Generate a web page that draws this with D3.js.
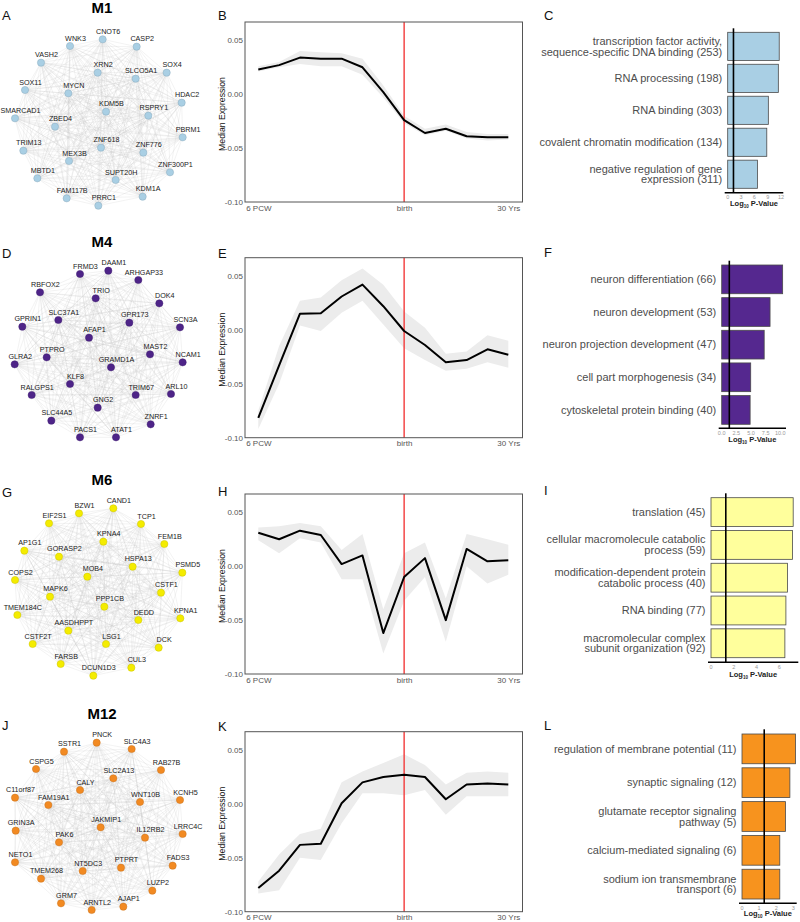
<!DOCTYPE html>
<html>
<head>
<meta charset="utf-8">
<style>
  body { margin: 0; background: #fff; }
  svg { display: block; font-family: "Liberation Sans", Arial, sans-serif; }
</style>
</head>
<body>
<svg id="fig" width="800" height="922"></svg>
<script src="https://d3js.org/d3.v7.min.js"></script>
<script>
// ---------- data ----------
const moduleNames = ["M1", "M4", "M6", "M12"];
const timeTicks = [0, 7, 12];
const timeTickLabels = ["6 PCW", "birth", "30 Yrs"];
const birthIndex = 7;

// median expression over 13 developmental windows, with spread band
const m1Median = [0.023, 0.027, 0.034, 0.033, 0.033, 0.025, 0.002, -0.024, -0.036, -0.032, -0.039, -0.040, -0.040];
const m1Upper  = [0.026, 0.030, 0.040, 0.039, 0.038, 0.033, 0.008, -0.020, -0.032, -0.028, -0.035, -0.037, -0.037];
const m1Lower  = [0.021, 0.025, 0.028, 0.026, 0.026, 0.018, -0.003, -0.027, -0.038, -0.034, -0.041, -0.043, -0.042];

const m4Median = [-0.0815, -0.033, 0.015, 0.0155, 0.031, 0.042, 0.022, -0.001, -0.014, -0.030, -0.028, -0.018, -0.023];
const m4Upper  = [-0.075, -0.015, 0.027, 0.030, 0.046, 0.057, 0.042, 0.017, 0.002, -0.022, -0.020, -0.005, -0.010];
const m4Lower  = [-0.092, -0.050, 0.004, -0.001, 0.016, 0.027, 0.005, -0.017, -0.028, -0.038, -0.036, -0.030, -0.035];

const m6Median = [0.031, 0.025, 0.033, 0.029, 0.002, 0.010, -0.062, -0.010, 0.0075, -0.050, 0.016, 0.0045, 0.0055];
const m6Upper  = [0.036, 0.037, 0.040, 0.037, 0.015, 0.030, -0.040, 0.012, 0.022, -0.030, 0.030, 0.025, 0.020];
const m6Lower  = [0.024, 0.012, 0.026, 0.022, -0.012, -0.012, -0.081, -0.032, -0.010, -0.070, 0.000, -0.016, -0.008];

const m12Median = [-0.078, -0.062, -0.038, -0.037, 0.0006, 0.020, 0.025, 0.027, 0.025, 0.0043, 0.018, 0.019, 0.018];
const m12Upper  = [-0.072, -0.047, -0.028, -0.023, 0.020, 0.030, 0.038, 0.046, 0.036, 0.018, 0.029, 0.030, 0.029];
const m12Lower  = [-0.083, -0.080, -0.050, -0.052, -0.018, 0.010, 0.010, 0.008, 0.013, -0.010, 0.007, 0.007, 0.007];

// GO enrichment: term labels and -log10 p-values
const m1Terms = ["transcription factor activity,\nsequence-specific DNA binding (253)", "RNA processing (198)", "RNA binding (303)", "covalent chromatin modification (134)", "negative regulation of gene\nexpression (311)"];
const m1LogP = [11.6, 11.4, 9.15, 8.8, 6.7];
const m4Terms = ["neuron differentiation (66)", "neuron development (53)", "neuron projection development (47)", "cell part morphogenesis (34)", "cytoskeletal protein binding (40)"];
const m4LogP = [10.4, 8.25, 7.25, 4.95, 4.85];
const m6Terms = ["translation (45)", "cellular macromolecule catabolic\nprocess (59)", "modification-dependent protein\ncatabolic process (40)", "RNA binding (77)", "macromolecular complex\nsubunit organization (92)"];
const m6LogP = [7.22, 7.16, 6.72, 6.58, 6.49];
const m12Terms = ["regulation of membrane potential (11)", "synaptic signaling (12)", "glutamate receptor signaling\npathway (5)", "calcium-mediated signaling (6)", "sodium ion transmembrane\ntransport (6)"];
const m12LogP = [3.13, 2.8, 2.54, 2.21, 2.21];
const pThreshold = 1.3;
const m1Ticks = [0, 3, 6, 9, 12];
const m4Ticks = [0, 2.5, 5, 7.5, 10];
const m6Ticks = [0, 2, 4, 6];
const m12Ticks = [0, 1, 2, 3];

// hub genes with their network layout (layout units 600 x 690)
const m1Nodes = [["CNOT6",308,118],["WNK3",210,138],["CASP2",410,140],["VASH2",123,188],["XRN2",293,218],["SOX4",500,218],["SLCO5A1",407,236],["SOX11",75,270],["MYCN",205,280],["HDAC2",545,308],["KDM5B",318,335],["RSPRY1",445,347],["SMARCAD1",45,355],["ZBED4",165,380],["PBRM1",548,412],["TRIM13",70,452],["ZNF618",303,443],["ZNF776",430,458],["MEX3B",207,483],["ZNF300P1",510,517],["MBTD1",112,535],["SUPT20H",347,540],["FAM117B",200,595],["KDM1A",428,590],["PRRC1",295,617]];
const m4Nodes = [["DAAM1",325,122],["FRMD3",240,132],["ARHGAP33",415,150],["RBFOX2",120,187],["TRIO",287,205],["DOK4",478,220],["SLC37A1",175,270],["GPR173",388,278],["GPRIN1",67,290],["SCN3A",540,292],["AFAP1",267,323],["MAST2",450,373],["PTPRO",140,382],["NCAM1",548,397],["GLRA2",44,403],["GRAMD1A",333,412],["KLF8",210,462],["TRIM67",407,495],["ARL10",513,492],["RALGPS1",95,495],["GNG2",293,533],["SLC44A5",154,572],["ZNRF1",452,583],["PACS1",240,622],["ATAT1",348,622]];
const m6Nodes = [["CAND1",340,145],["BZW1",237,160],["EIF2S1",147,190],["TCP1",423,192],["KPNA4",310,245],["FEM1B",493,252],["AP1G1",73,272],["GORASP2",177,290],["HSPA13",398,320],["PSMD5",547,338],["COPS2",45,360],["MOB4",262,350],["CSTF1",483,398],["MAPK6",150,410],["PPP1CB",313,440],["TMEM184C",52,465],["DEDD",415,480],["KPNA1",541,475],["AASDHPPT",205,512],["CSTF2T",98,552],["LSG1",318,552],["DCK",476,563],["FARSB",182,612],["CUL3",394,623],["DCUN1D3",280,647]];
const m12Nodes = [["PNCK",290,158],["SSTR1",192,185],["SLC4A3",395,177],["CSPG5",108,237],["RAB27B",483,240],["SLC2A13",340,265],["CALY",240,300],["C11orf87",45,323],["KCNH5",540,330],["WNT10B",420,336],["FAM19A1",145,345],["JAKMIP1",302,412],["GRIN3A",47,422],["LRRC4C",548,432],["IL12RB2",435,443],["PAK6",177,457],["NETO1",45,517],["FADS3",518,527],["PTPRT",363,533],["NT5DC3",248,543],["TMEM268",123,566],["LUZP2",457,602],["GRM7",183,640],["AJAP1",370,650],["ARNTL2",275,660]];

// ---------- layout ----------
const rows = [
  { y0: 0,   nodes: m1Nodes, med: m1Median, up: m1Upper, lo: m1Lower, terms: m1Terms, logp: m1LogP, ticks: m1Ticks,
    color: "#a9cfe4", node: "#a9cfe4", letters: ["A","B","C"], titleY: 12.7, netLetterY: 20, lineTop: 22, lineLetterY: 20,
    barLetterY: 20, band: [32.3, 188.3], axisY: 192.7, threshTop: 28.3, x0: 727.7, xTick: 781, axisEnd: 783.3, titleDy: 13.5, fmt: d => d },
  { y0: 230, nodes: m4Nodes, med: m4Median, up: m4Upper, lo: m4Lower, terms: m4Terms, logp: m4LogP, ticks: m4Ticks,
    color: "#55288f", node: "#4e2488", letters: ["D","E","F"], titleY: 246.7, netLetterY: 258, lineTop: 257.7, lineLetterY: 258.3,
    barLetterY: 256.7, band: [265, 424.3], axisY: 428.3, threshTop: 260.7, x0: 721.7, xTick: 780.3, axisEnd: 786, titleDy: 14, fmt: d3.format(".1f") },
  { y0: 460, nodes: m6Nodes, med: m6Median, up: m6Upper, lo: m6Lower, terms: m6Terms, logp: m6LogP, ticks: m6Ticks,
    color: "#ffff9c", node: "#f4ec00", letters: ["G","H","I"], titleY: 485, netLetterY: 497, lineTop: 494, lineLetterY: 496,
    barLetterY: 495, band: [497.7, 657.7], axisY: 662.3, threshTop: 493.3, x0: 711, xTick: 779.3, axisEnd: 798.3, titleDy: 15, fmt: d => d },
  { y0: 690, nodes: m12Nodes, med: m12Median, up: m12Upper, lo: m12Lower, terms: m12Terms, logp: m12LogP, ticks: m12Ticks,
    color: "#f7931e", node: "#f28a22", letters: ["J","K","L"], titleY: 719.3, netLetterY: 730, lineTop: 731.7, lineLetterY: 730.7,
    barLetterY: 730, band: [734, 899], axisY: 903.3, threshTop: 729.3, x0: 742, xTick: 793.3, axisEnd: 796.7, titleDy: 13, fmt: d => d }
];

const svg = d3.select("#fig");

rows.forEach((r, k) => {
  drawNetwork(r, moduleNames[k]);
  drawLine(r);
  drawBars(r);
});

function letter(x, y, t) {
  svg.append("text").attr("x", x).attr("y", y)
    .attr("font-size", 13).attr("fill", "#111").text(t);
}

function drawNetwork(r, name) {
  const g = svg.append("g");
  const x = d3.scaleLinear().domain([0, 600]).range([0, 200]);
  const y = d3.scaleLinear().domain([0, 690]).range([r.y0, r.y0 + 230]);
  const n = r.nodes;
  const pairs = d3.cross(d3.range(n.length), d3.range(n.length)).filter(([i, j]) => i < j);

  g.append("g")
    .attr("stroke", "#c4c4c4")
    .attr("stroke-opacity", 0.45)
    .attr("stroke-width", 0.45)
    .selectAll("line")
    .data(pairs)
    .join("line")
    .attr("x1", d => x(n[d[0]][1])).attr("y1", d => y(n[d[0]][2]))
    .attr("x2", d => x(n[d[1]][1])).attr("y2", d => y(n[d[1]][2]));

  g.append("g").selectAll("circle")
    .data(n)
    .join("circle")
    .attr("cx", d => x(d[1]))
    .attr("cy", d => y(d[2]))
    .attr("r", 3.6)
    .attr("fill", r.node)
    .attr("stroke", d3.color(r.node).darker(0.5))
    .attr("stroke-width", 0.5);

  g.append("g")
    .attr("font-size", 7.2)
    .attr("fill", "#1a1a1a")
    .attr("text-anchor", "middle")
    .selectAll("text")
    .data(n)
    .join("text")
    .attr("x", d => x(d[1]) + 5.5)
    .attr("y", d => y(d[2]) - 5.5)
    .text(d => d[0]);

  svg.append("text")
    .attr("x", 102).attr("y", r.titleY)
    .attr("text-anchor", "middle")
    .attr("font-size", 15).attr("font-weight", "bold")
    .text(name);
  letter(2, r.netLetterY, r.letters[0]);
}

function drawLine(r) {
  const g = svg.append("g");
  const left = 245, right = 522.5, top = r.lineTop, bottom = r.lineTop + 180;
  const x = d3.scaleLinear().domain([0, 12]).range([258.3, 508.3]);
  const y = d3.scaleLinear().domain([-0.10, 0.067]).range([bottom, top]);

  const area = d3.area()
    .x((d, i) => x(i))
    .y0((d, i) => y(r.lo[i]))
    .y1((d, i) => y(r.up[i]));
  g.append("path").datum(r.med).attr("d", area).attr("fill", "#ececec");

  g.append("line")
    .attr("x1", x(birthIndex)).attr("x2", x(birthIndex))
    .attr("y1", top).attr("y2", bottom)
    .attr("stroke", "#f23a3a").attr("stroke-width", 1.4);

  const line = d3.line().x((d, i) => x(i)).y(d => y(d));
  g.append("path").datum(r.med).attr("d", line)
    .attr("fill", "none").attr("stroke", "#000").attr("stroke-width", 2)
    .attr("stroke-linejoin", "round");

  g.append("rect")
    .attr("x", left).attr("y", top)
    .attr("width", right - left).attr("height", bottom - top)
    .attr("fill", "none").attr("stroke", "#555").attr("stroke-width", 1);

  const ya = g.append("g")
    .attr("transform", `translate(${left},0)`)
    .call(d3.axisLeft(y).tickValues([-0.10, -0.05, 0, 0.05]).tickFormat(d => d.toFixed(2)).tickSize(0).tickPadding(2));
  ya.select(".domain").remove();
  ya.selectAll("text").attr("font-size", 8).attr("fill", "#555").attr("font-family", null);

  const xa = g.append("g")
    .attr("transform", `translate(0,${bottom})`)
    .call(d3.axisBottom(x).tickValues(timeTicks).tickFormat((d, i) => timeTickLabels[i]).tickSize(0).tickPadding(3));
  xa.select(".domain").remove();
  xa.selectAll("text").attr("font-size", 8).attr("fill", "#555").attr("font-family", null);

  g.append("text")
    .attr("transform", `translate(224.5,${(top + bottom) / 2 + 2}) rotate(-90)`)
    .attr("text-anchor", "middle")
    .attr("font-size", 8.7).attr("fill", "#111")
    .text("Median Expression");

  letter(218, r.lineLetterY, r.letters[1]);
}

function drawBars(r) {
  const g = svg.append("g");
  const tmax = r.ticks[r.ticks.length - 1];
  const x = d3.scaleLinear().domain([0, tmax]).range([r.x0, r.xTick]);
  const y = d3.scaleBand().domain(d3.range(r.terms.length)).range(r.band).paddingInner(0.12);

  g.append("g").selectAll("rect")
    .data(r.logp)
    .join("rect")
    .attr("x", x(0))
    .attr("y", (d, i) => y(i))
    .attr("width", d => x(d) - x(0))
    .attr("height", y.bandwidth())
    .attr("fill", r.color)
    .attr("stroke", "#4a4a4a")
    .attr("stroke-width", 0.8);

  const lh = 10.8;
  g.append("g")
    .attr("font-size", 11)
    .attr("fill", "#4d4d4d")
    .attr("text-anchor", "end")
    .selectAll("text")
    .data(r.terms)
    .join("text")
    .attr("y", (d, i) => y(i) + y.bandwidth() / 2)
    .each(function (d) {
      const parts = d.split("\n");
      d3.select(this).selectAll("tspan")
        .data(parts)
        .join("tspan")
        .attr("x", r.x0 - 5.5)
        .attr("dy", (p, j) => j === 0 ? (-(parts.length - 1) / 2 * lh + 3.8) : lh)
        .text(p => p);
    });

  g.append("line")
    .attr("x1", r.x0 - 3).attr("x2", r.axisEnd)
    .attr("y1", r.axisY).attr("y2", r.axisY)
    .attr("stroke", "#000").attr("stroke-width", 1.5);

  g.append("line")
    .attr("x1", x(pThreshold)).attr("x2", x(pThreshold))
    .attr("y1", r.threshTop).attr("y2", r.axisY)
    .attr("stroke", "#000").attr("stroke-width", 1.6);

  g.append("g")
    .attr("font-size", 5.5)
    .attr("fill", "#999")
    .attr("text-anchor", "middle")
    .selectAll("text")
    .data(r.ticks)
    .join("text")
    .attr("x", d => x(d))
    .attr("y", r.axisY + 6.3)
    .text(r.fmt);

  const t = g.append("text")
    .attr("x", (r.x0 - 3 + r.axisEnd) / 2)
    .attr("y", r.axisY + r.titleDy)
    .attr("text-anchor", "middle")
    .attr("font-size", 7.5)
    .attr("font-weight", "bold")
    .attr("fill", "#222");
  t.append("tspan").text("Log");
  t.append("tspan").attr("font-size", 4.5).attr("dy", 1.5).text("10");
  t.append("tspan").attr("dy", -1.5).text(" P-Value");

  letter(544, r.barLetterY, r.letters[2]);
}
</script>
</body>
</html>
